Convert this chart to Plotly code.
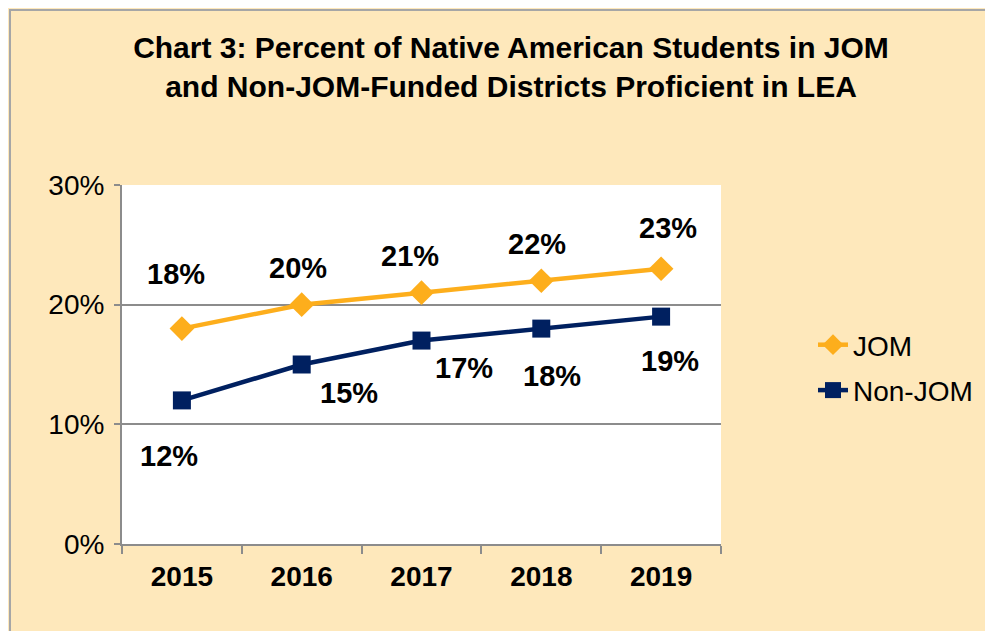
import plotly.graph_objects as go

years = ["2015", "2016", "2017", "2018", "2019"]
jom = [18, 20, 21, 22, 23]
non_jom = [12, 15, 17, 18, 19]
jom_labels = ["18%", "20%", "21%", "22%", "23%"]
non_jom_labels = ["12%", "15%", "17%", "18%", "19%"]
y_ticks = [0, 10, 20, 30]
y_tick_text = ["0%", "10%", "20%", "30%"]

# pixel offsets of the data labels (Excel-style placement)
jom_shift = [(-6, 55), (-4, 37), (-12, 37), (-4, 37), (7, 41)]
non_shift = [(-13, -56), (47, -28), (42, -27), (11, -47), (9, -44)]

W, H = 993, 631
OFF = 8  # page body margin
L, T = 122 - OFF, 185 - OFF
R = W - (721 - OFF)
B = H - (544 - OFF)
FONT = "Arial, Liberation Sans, sans-serif"
BG = "#FEE8BB"
ORANGE = "#FDAE1C"
NAVY = "#002060"

fig = go.Figure()
fig.add_trace(go.Scatter(
    x=years, y=jom, name="JOM", mode="lines+markers", legendgroup="a",
    line=dict(color=ORANGE, width=4.5),
    marker=dict(symbol="diamond", size=19, color=ORANGE),
))
fig.add_trace(go.Scatter(
    x=years, y=non_jom, name="Non-JOM", mode="lines+markers", legendgroup="b",
    line=dict(color=NAVY, width=4.5),
    marker=dict(symbol="square", size=18, color=NAVY),
))

annots = []
for i, (v, t, (dx, dy)) in enumerate(zip(jom, jom_labels, jom_shift)):
    annots.append(dict(x=i, y=v, text=t, showarrow=False, xshift=dx, yshift=dy,
                       font=dict(family=FONT, size=29, color="black", weight="bold")))
for i, (v, t, (dx, dy)) in enumerate(zip(non_jom, non_jom_labels, non_shift)):
    annots.append(dict(x=i, y=v, text=t, showarrow=False, xshift=dx, yshift=dy,
                       font=dict(family=FONT, size=29, color="black", weight="bold")))

pw = W - L - R
ph = H - T - B
fig.update_layout(
    width=W, height=H,
    margin=dict(l=L, r=R, t=T, b=B),
    paper_bgcolor=BG, plot_bgcolor="white",
    font=dict(family=FONT, size=28, color="black"),
    title=dict(
        text="<b>Chart 3: Percent of Native American Students in JOM<br>and Non-JOM-Funded Districts Proficient in LEA</b>",
        x=(511 - OFF) / W, xanchor="center", xref="container",
        y=1 - (58 - OFF) / H, yanchor="top", yref="container",
        font=dict(family=FONT, size=30, color="black"),
    ),
    xaxis=dict(
        type="category", range=[-0.5, 4.5],
        tickson="boundaries", ticks="outside", ticklen=8, tickcolor="#8C8C8C", tickwidth=2,
        showline=True, linecolor="#8C8C8C", linewidth=2,
        showgrid=False, zeroline=False,
        tickfont=dict(family=FONT, size=28, color="black", weight="bold"),
        ticklabelstandoff=6,
    ),
    yaxis=dict(
        range=[0, 30], tickvals=y_ticks, ticktext=y_tick_text,
        ticks="outside", ticklen=6, tickcolor="#8C8C8C", tickwidth=2,
        showline=True, linecolor="#8C8C8C", linewidth=2,
        showgrid=True, gridcolor="#8C8C8C", gridwidth=1.5, zeroline=False,
        tickfont=dict(family=FONT, size=28, color="black"),
        ticklabelstandoff=4,
    ),
    legend=dict(
        x=(813 - OFF - L) / pw, xanchor="left", y=1 - (320 - OFF - T) / ph, yanchor="top",
        bgcolor="rgba(0,0,0,0)", font=dict(family=FONT, size=28, color="black"),
        tracegroupgap=6,
    ),
    annotations=annots,
    shapes=[dict(
        type="rect", xref="paper", yref="paper",
        x0=(10 - OFF - L) / pw, x1=(W + 10 - L) / pw,
        y0=-(H + 10 - T - ph) / ph, y1=1 + (T - 10 + OFF) / ph,
        line=dict(color="#A6A6A6", width=2), fillcolor="rgba(0,0,0,0)", layer="below",
    )],
)

fig.write_html("out.html")
